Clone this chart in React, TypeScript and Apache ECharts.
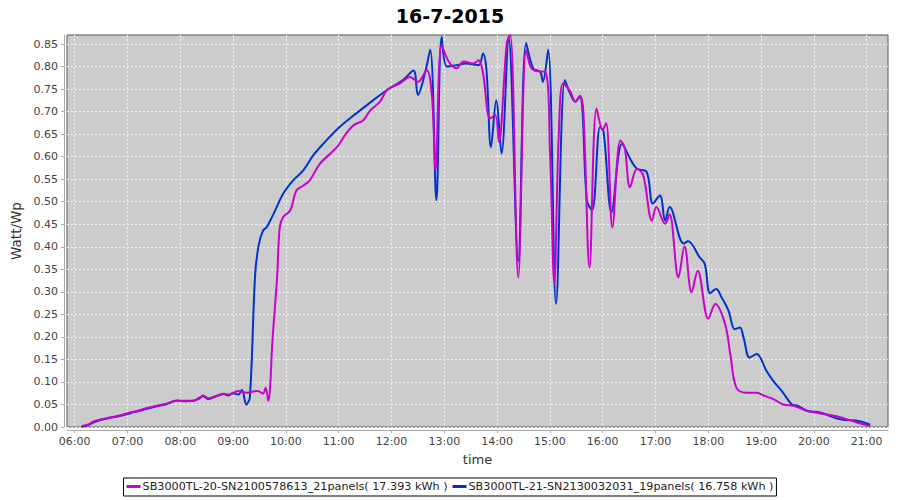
import React, { useEffect, useRef } from "react";
import * as echarts from "echarts";

const TITLE = "16-7-2015";
const X_NAME = "time";
const Y_NAME = "Watt/Wp";
const NAME_A = "SB3000TL-20-SN2100578613_21panels( 17.393 kWh )";
const NAME_B = "SB3000TL-21-SN2130032031_19panels( 16.758 kWh )";

const X_TICKS = ["06:00", "07:00", "08:00", "09:00", "10:00", "11:00", "12:00", "13:00", "14:00", "15:00", "16:00", "17:00", "18:00", "19:00", "20:00", "21:00"];
const Y_TICKS = [0, 0.05, 0.1, 0.15, 0.2, 0.25, 0.3, 0.35, 0.4, 0.45, 0.5, 0.55, 0.6, 0.65, 0.7, 0.75, 0.8, 0.85];
const X_MIN = "05:51";
const X_MAX = "21:24";
const Y_MIN = 0;
const Y_MAX = 0.87;

// Series A (magenta)
const timesA = [
  "06:08", "06:16", "06:21", "06:30", "06:40", "06:50", "06:59", "07:07", "07:14", "07:23",
  "07:33", "07:43", "07:56", "08:06", "08:15", "08:21", "08:26", "08:32", "08:38", "08:44",
  "08:49", "08:55", "09:00", "09:06", "09:11", "09:17", "09:23", "09:28", "09:34", "09:37",
  "09:40", "09:45", "09:50", "09:53", "09:57", "10:05", "10:12", "10:20", "10:27", "10:39",
  "10:58", "11:08", "11:17", "11:28", "11:36", "11:47", "11:55", "12:10", "12:21", "12:30",
  "12:40", "12:46", "12:50", "12:57", "13:05", "13:14", "13:22", "13:33", "13:39", "13:44",
  "13:52", "13:58", "14:02", "14:11", "14:15", "14:24", "14:33", "14:38", "14:44", "14:55",
  "15:00", "15:05", "15:10", "15:15", "15:23", "15:29", "15:34", "15:38", "15:45", "15:53",
  "16:00", "16:04", "16:11", "16:20", "16:25", "16:31", "16:39", "16:46", "16:56", "17:01",
  "17:11", "17:16", "17:26", "17:33", "17:41", "17:48", "18:00", "18:08", "18:19", "18:25",
  "18:32", "18:44", "18:55", "19:04", "19:14", "19:25", "19:37", "19:52", "20:08", "20:26",
  "20:49", "21:04"
];
const valuesA = [
  0.002, 0.006, 0.012, 0.017, 0.021, 0.025, 0.030, 0.034, 0.037, 0.043,
  0.047, 0.051, 0.059, 0.058, 0.059, 0.062, 0.070, 0.064, 0.067, 0.070,
  0.074, 0.072, 0.076, 0.080, 0.077, 0.076, 0.079, 0.080, 0.074, 0.087,
  0.058, 0.200, 0.332, 0.443, 0.466, 0.481, 0.525, 0.536, 0.547, 0.585,
  0.621, 0.650, 0.670, 0.681, 0.703, 0.722, 0.748, 0.763, 0.777, 0.766,
  0.792, 0.733, 0.570, 0.848, 0.811, 0.796, 0.811, 0.807, 0.814, 0.785,
  0.685, 0.692, 0.633, 0.852, 0.870, 0.332, 0.837, 0.800, 0.790, 0.788,
  0.618, 0.318, 0.644, 0.763, 0.745, 0.722, 0.735, 0.700, 0.354, 0.707,
  0.660, 0.674, 0.443, 0.636, 0.620, 0.532, 0.573, 0.559, 0.458, 0.488,
  0.451, 0.472, 0.332, 0.401, 0.299, 0.347, 0.240, 0.273, 0.229, 0.162,
  0.087, 0.076, 0.076, 0.069, 0.062, 0.050, 0.047, 0.036, 0.030, 0.024,
  0.010, 0.002
];

// Series B (blue)
const timesB = [
  "06:08", "06:16", "06:21", "06:30", "06:40", "06:50", "06:59", "07:07", "07:14", "07:23",
  "07:33", "07:43", "07:56", "08:06", "08:15", "08:21", "08:26", "08:32", "08:38", "08:44",
  "08:49", "08:55", "09:00", "09:06", "09:10", "09:15", "09:19", "09:25", "09:29", "09:34",
  "09:38", "09:46", "09:57", "10:08", "10:20", "10:31", "10:46", "11:01", "11:20", "11:39",
  "11:55", "12:13", "12:25", "12:30", "12:38", "12:44", "12:51", "12:57", "13:03", "13:14",
  "13:25", "13:39", "13:44", "13:48", "13:53", "13:59", "14:05", "14:13", "14:24", "14:33",
  "14:41", "14:49", "14:52", "14:58", "15:07", "15:17", "15:23", "15:29", "15:34", "15:37",
  "15:42", "15:48", "15:57", "16:01", "16:10", "16:22", "16:31", "16:39", "16:50", "16:57",
  "17:05", "17:11", "17:16", "17:32", "17:37", "17:50", "17:56", "18:02", "18:09", "18:15",
  "18:23", "18:30", "18:36", "18:40", "18:47", "18:55", "19:06", "19:14", "19:25", "19:35",
  "19:42", "19:52", "20:07", "20:30", "20:52", "21:04"
];
const valuesB = [
  0.000, 0.005, 0.010, 0.016, 0.020, 0.024, 0.028, 0.033, 0.036, 0.041,
  0.046, 0.050, 0.058, 0.057, 0.058, 0.064, 0.068, 0.062, 0.066, 0.071,
  0.073, 0.070, 0.075, 0.072, 0.082, 0.050, 0.065, 0.336, 0.403, 0.436,
  0.443, 0.473, 0.518, 0.547, 0.570, 0.603, 0.636, 0.666, 0.696, 0.725,
  0.748, 0.770, 0.791, 0.737, 0.785, 0.837, 0.503, 0.866, 0.800, 0.803,
  0.807, 0.803, 0.829, 0.790, 0.621, 0.725, 0.607, 0.866, 0.369, 0.852,
  0.796, 0.788, 0.766, 0.837, 0.273, 0.770, 0.740, 0.722, 0.733, 0.703,
  0.503, 0.481, 0.666, 0.655, 0.477, 0.629, 0.596, 0.573, 0.566, 0.496,
  0.514, 0.458, 0.488, 0.407, 0.412, 0.377, 0.362, 0.297, 0.306, 0.288,
  0.258, 0.217, 0.221, 0.199, 0.154, 0.162, 0.125, 0.102, 0.076, 0.050,
  0.047, 0.036, 0.032, 0.017, 0.013, 0.005
];

const COLOR_A = "#cc00cc";
const COLOR_B = "#0033cc";
const FONT = "DejaVu Sans";

const toMin = (s: string) => {
  const [h, m] = s.split(":").map(Number);
  return h * 60 + m;
};
const fmtMin = (v: number) => {
  const h = Math.floor(v / 60);
  const m = Math.round(v - h * 60);
  return String(h).padStart(2, "0") + ":" + String(m).padStart(2, "0");
};

export default function App() {
  const ref = useRef<HTMLDivElement>(null);
  useEffect(() => {
    if (!ref.current) return;
    const chart = echarts.init(ref.current, undefined, { renderer: "svg" });
    const xTickVals = X_TICKS.map(toMin);
    const dataA = timesA.map((t, i) => [toMin(t), valuesA[i]]);
    const dataB = timesB.map((t, i) => [toMin(t), valuesB[i]]);
    chart.setOption({
      animation: false,
      backgroundColor: "#ffffff",
      title: {
        text: TITLE,
        left: "center",
        top: 1,
        textStyle: { fontFamily: FONT, fontWeight: "bold", fontSize: 19, color: "#000" },
      },
      grid: {
        left: 67,
        right: 12,
        top: 35,
        bottom: 73,
        show: true,
        backgroundColor: "#cccccc",
        borderColor: "#555555",
        borderWidth: 1,
      },
      legend: {
        top: 478,
        left: "center",
        data: [
          { name: NAME_A, icon: "rect" },
          { name: NAME_B, icon: "rect" },
        ],
        itemWidth: 14,
        itemHeight: 3,
        itemGap: 5,
        borderColor: "#000",
        borderWidth: 1,
        borderRadius: 0,
        padding: [3, 3, 4, 3],
        textStyle: { fontFamily: FONT, fontSize: 11.2, color: "#222", padding: [0, 0, 0, -3] },
      },
      xAxis: {
        type: "value",
        min: toMin(X_MIN) + 0.25,
        max: toMin(X_MAX) + 0.2,
        offset: 3,
        name: X_NAME,
        nameLocation: "middle",
        nameGap: 23,
        nameTextStyle: { fontFamily: FONT, fontSize: 13, color: "#333" },
        axisLine: { onZero: false, lineStyle: { color: "#aaaaaa", width: 1 } },
        axisTick: { customValues: xTickVals, length: 3, lineStyle: { color: "#aaaaaa" } },
        axisLabel: {
          customValues: xTickVals,
          formatter: (v: number) => fmtMin(v),
          margin: 6,
          fontFamily: FONT,
          fontSize: 11,
          color: "#444",
        },
        splitLine: { show: true, lineStyle: { color: "#f4f4f4", type: [2, 2], width: 1 } },
      },
      yAxis: {
        type: "value",
        min: Y_MIN,
        max: Y_MAX,
        offset: 3,
        name: Y_NAME,
        nameLocation: "middle",
        nameGap: 38,
        nameRotate: 90,
        nameTextStyle: { fontFamily: FONT, fontSize: 13.5, color: "#333" },
        axisLine: { show: true, onZero: false, lineStyle: { color: "#aaaaaa", width: 1 } },
        axisTick: { show: true, customValues: Y_TICKS, length: 3, lineStyle: { color: "#aaaaaa" } },
        axisLabel: {
          customValues: Y_TICKS,
          formatter: (v: number) => v.toFixed(2),
          margin: 6,
          fontFamily: FONT,
          fontSize: 11,
          color: "#444",
        },
        splitLine: { show: true, lineStyle: { color: "#f4f4f4", type: [2, 2], width: 1 } },
      },
      series: [
        {
          name: NAME_B,
          type: "line",
          data: dataB,
          smooth: 0.35,
          showSymbol: false,
          lineStyle: { width: 2, color: COLOR_B },
          itemStyle: { color: COLOR_B },
        },
        {
          name: NAME_A,
          type: "line",
          data: dataA,
          smooth: 0.35,
          showSymbol: false,
          lineStyle: { width: 2, color: COLOR_A },
          itemStyle: { color: COLOR_A },
        },
      ],
    });
    return () => chart.dispose();
  }, []);
  return (
    <div
      ref={ref}
      style={{ position: "fixed", left: 0, top: 0, width: 900, height: 500 }}
    />
  );
}
